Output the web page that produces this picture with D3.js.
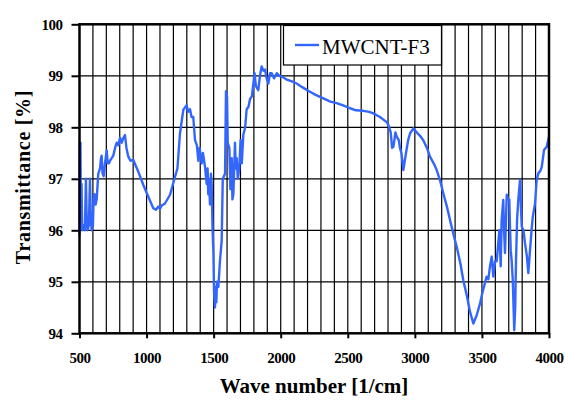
<!DOCTYPE html>
<html>
<head>
<meta charset="utf-8">
<script src="https://cdn.jsdelivr.net/npm/d3@7"></script>
<style>
  body { margin: 0; background: #fff; }
  svg text { font-family: "Liberation Serif", "Times New Roman", serif; }
</style>
</head>
<body>
<div id="chart"></div>
<script>
// wave number [1/cm] and transmittance [%]
const waveNumbers = [
  500, 503, 507, 510, 515, 520, 530, 540, 548, 553, 560, 570, 578, 583, 590, 600, 605, 612, 620, 628,
  640, 653, 660, 665, 672, 680, 690, 703, 710, 720, 727, 740, 752, 765, 777, 790, 802, 815, 825, 839,
  850, 864, 880, 901, 920, 938, 976, 1013, 1050, 1070, 1087, 1100, 1113, 1137, 1175, 1212, 1230, 1249, 1274, 1299,
  1310, 1324, 1335, 1348, 1361, 1375, 1386, 1395, 1411, 1420, 1436, 1448, 1455, 1460, 1465, 1473, 1480, 1485, 1492, 1498,
  1503, 1510, 1515, 1520, 1525, 1535, 1547, 1560, 1568, 1585, 1592, 1600, 1605, 1617, 1625, 1635, 1640, 1647, 1659, 1665,
  1672, 1680, 1691, 1701, 1710, 1721, 1735, 1746, 1760, 1771, 1785, 1796, 1805, 1815, 1833, 1845, 1858, 1870, 1883, 1895,
  1908, 1920, 1933, 1950, 1970, 1990, 2010, 2050, 2094, 2119, 2160, 2218, 2260, 2318, 2370, 2417, 2470, 2517, 2560, 2616,
  2660, 2690, 2740, 2790, 2802, 2820, 2830, 2840, 2855, 2865, 2880, 2889, 2900, 2914, 2925, 2934, 2950, 2964, 2989, 3014,
  3040, 3063, 3090, 3113, 3140, 3163, 3190, 3212, 3240, 3262, 3290, 3312, 3340, 3361, 3390, 3411, 3436, 3461, 3486, 3500,
  3523, 3535, 3548, 3560, 3573, 3585, 3598, 3610, 3620, 3630, 3640, 3647, 3659, 3665, 3672, 3685, 3695, 3704, 3710, 3715,
  3722, 3730, 3741, 3748, 3754, 3762, 3771, 3784, 3790, 3797, 3810, 3821, 3835, 3846, 3858, 3870, 3879, 3896, 3908, 3921,
  3935, 3946, 3963, 3975, 3983, 4000
];
const transmittance = [
  95.9, 97.7, 97.7, 96.5, 96.9, 96.0, 96.1, 96.0, 97.0, 96.3, 96.0, 96.1, 97.0, 96.4, 96.0, 96.1, 96.6, 96.7, 96.5, 96.6,
  97.1, 97.2, 97.4, 97.45, 97.1, 97.05, 97.3, 97.55, 97.3, 97.3, 97.35, 97.4, 97.45, 97.6, 97.7, 97.65, 97.8, 97.7, 97.78, 97.85,
  97.6, 97.43, 97.35, 97.37, 97.25, 97.14, 96.88, 96.65, 96.43, 96.4, 96.46, 96.42, 96.48, 96.52, 96.69, 97.04, 97.2, 97.88, 98.34, 98.43,
  98.3, 98.35, 98.2, 98.2, 97.75, 97.65, 97.35, 97.6, 97.3, 97.5, 97.23, 96.9, 97.2, 96.7, 97.0, 96.5, 97.1, 96.9, 96.0, 95.6,
  94.8, 94.5, 94.9, 94.6, 95.0, 94.9, 95.4, 95.8, 97.0, 97.1, 98.7, 98.6, 97.7, 97.6, 96.8, 97.4, 96.6, 96.7, 97.7, 97.2,
  97.4, 97.0, 97.2, 97.75, 97.3, 97.85, 98.0, 98.35, 98.4, 98.55, 98.6, 98.85, 99.05, 98.8, 98.72, 99.0, 99.18, 99.1, 99.12, 98.95,
  98.85, 99.05, 99.05, 98.95, 99.05, 99.0, 98.98, 98.92, 98.88, 98.85, 98.78, 98.69, 98.63, 98.56, 98.5, 98.47, 98.42, 98.37, 98.33, 98.32,
  98.3, 98.27, 98.2, 98.1, 98.05, 97.9, 97.6, 97.62, 97.9, 97.82, 97.75, 97.6, 97.5, 97.17, 97.35, 97.5, 97.75, 97.88, 97.98, 97.9,
  97.83, 97.75, 97.6, 97.43, 97.3, 97.17, 96.95, 96.72, 96.45, 96.2, 95.9, 95.68, 95.35, 95.03, 94.7, 94.42, 94.19, 94.35, 94.58, 94.75,
  94.98, 95.1, 95.05, 95.3, 95.49, 95.1, 95.4, 95.4, 95.7, 96.0, 95.3, 96.2, 96.59, 96.0, 95.56, 96.69, 96.6, 96.6, 96.0, 95.6,
  95.4, 95.03, 94.06, 94.5, 95.4, 96.2, 96.59, 96.98, 96.5, 96.07, 96.0, 95.75, 95.5, 95.17, 95.6, 96.0, 96.26, 96.52, 96.98, 97.11,
  97.15, 97.23, 97.56, 97.6, 97.62, 97.82
];
const xTicks = [500, 1000, 1500, 2000, 2500, 3000, 3500, 4000];
const yTicks = [94, 95, 96, 97, 98, 99, 100];
const seriesName = "MWCNT-F3";

const width = 565, height = 401;
const x0 = 79.5, x1 = 549, y0 = 24.3, y1 = 333.3;

const svg = d3.select("#chart").append("svg")
  .attr("width", width)
  .attr("height", height);

const x = d3.scaleLinear().domain([500, 4000]).range([x0, x1]);
const y = d3.scaleLinear().domain([94, 100]).range([y1, y0]);

// grid
const grid = svg.append("g").attr("stroke", "#000").attr("stroke-width", 1.2);
grid.selectAll("line.v")
  .data(d3.range(600, 4000, 100))
  .join("line")
  .attr("x1", d => x(d)).attr("x2", d => x(d))
  .attr("y1", y0).attr("y2", y1);
grid.selectAll("line.h")
  .data(yTicks.slice(1, -1))
  .join("line")
  .attr("x1", x0).attr("x2", x1)
  .attr("y1", d => y(d)).attr("y2", d => y(d));

// axes
const yAxis = svg.append("g")
  .attr("transform", `translate(${x0},0)`)
  .call(d3.axisLeft(y).tickValues(yTicks).tickSize(8).tickPadding(9).tickFormat(d3.format("d")));
const xAxis = svg.append("g")
  .attr("transform", `translate(0,${y1})`)
  .call(d3.axisBottom(x).tickValues(xTicks).tickSize(5).tickPadding(14).tickFormat(d3.format("d")));
[xAxis, yAxis].forEach(a => {
  a.select(".domain").remove();
  a.selectAll(".tick line").attr("stroke", "#000").attr("stroke-width", 2);
  a.selectAll(".tick text")
    .attr("fill", "#000")
    .style("font-family", "'Liberation Serif', serif")
    .style("font-size", "15px")
    .style("font-weight", "bold")
    .style("letter-spacing", "-0.5px");
});

// line
const line = d3.line()
  .x((d, i) => x(waveNumbers[i]))
  .y(d => y(d));
svg.append("path")
  .datum(transmittance)
  .attr("fill", "none")
  .attr("stroke", "#3366ff")
  .attr("stroke-width", 2.4)
  .attr("stroke-linejoin", "round")
  .attr("d", line);

// frame
svg.append("rect")
  .attr("x", x0).attr("y", y0)
  .attr("width", x1 - x0).attr("height", y1 - y0)
  .attr("fill", "none")
  .attr("stroke", "#000")
  .attr("stroke-width", 2.5);

// legend
const legend = svg.append("g");
legend.append("rect")
  .attr("x", 283.5).attr("y", 25.5)
  .attr("width", 158).attr("height", 39.5)
  .attr("fill", "#fff")
  .attr("stroke", "#000")
  .attr("stroke-width", 1.2);
legend.append("line")
  .attr("x1", 295).attr("x2", 319)
  .attr("y1", 45).attr("y2", 45)
  .attr("stroke", "#3366ff")
  .attr("stroke-width", 2.4);
legend.append("text")
  .attr("x", 322).attr("y", 53.5)
  .style("font-size", "21px")
  .attr("fill", "#000")
  .text(seriesName);

// axis titles
svg.append("text")
  .attr("x", 314).attr("y", 393)
  .attr("text-anchor", "middle")
  .style("font-size", "21px")
  .style("font-weight", "bold")
  .text("Wave number [1/cm]");

svg.append("text")
  .attr("transform", "translate(30,177) rotate(-90)")
  .attr("text-anchor", "middle")
  .style("font-size", "20px")
  .style("font-weight", "bold")
  .style("letter-spacing", "0.7px")
  .text("Transmittance [%]");
</script>
</body>
</html>
